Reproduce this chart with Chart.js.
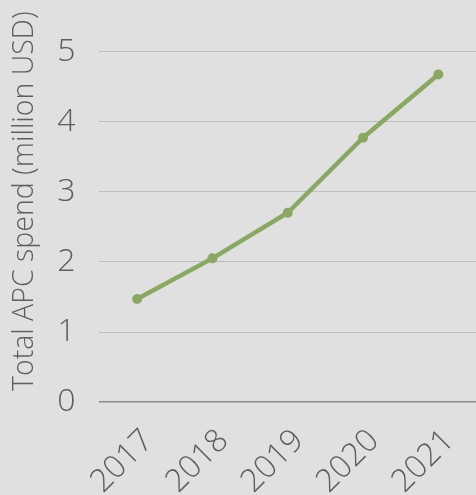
<!DOCTYPE html>
<html>
<head>
<meta charset="utf-8">
<script src="https://cdn.jsdelivr.net/npm/chart.js@4"></script>
<style>
  html, body { margin: 0; padding: 0; background: #e0e0e0; overflow: hidden; }
  #frame { width: 476px; height: 495px; position: relative; overflow: hidden; }
  #wrap { position: absolute; left: -3px; top: -43px; width: 489px; height: 564px; }
</style>
</head>
<body>
<div id="frame"><div id="wrap"><canvas id="apc-chart"></canvas></div></div>
<script>
const years = ['2017', '2018', '2019', '2020', '2021'];
const apcSpend = [1.47, 2.05, 2.70, 3.77, 4.67];
const yTicks = [0, 1, 2, 3, 4, 5];

const ctx = document.getElementById('apc-chart').getContext('2d');
const textGray = '#5e5e5e';

const chart = new Chart(ctx, {
	type: 'line',
	data: {
		labels: years,
		datasets: [
			{
				data: apcSpend,
				borderColor: '#8aa862',
				backgroundColor: '#8aa862',
				borderWidth: 4.5,
				pointRadius: 5,
				pointBorderWidth: 0,
				pointHoverRadius: 5,
				fill: false,
				tension: 0
			}
		]
	},
	options: {
		responsive: true,
		maintainAspectRatio: false,
		animation: false,
		plugins: {
			legend: { display: false },
			tooltip: { enabled: false }
		},
		scales: {
			x: {
				offset: true,
				grid: { display: false, drawTicks: false },
				border: { display: false },
				ticks: {
					color: textGray,
					font: { family: 'Open Sans', size: 32, weight: 300 },
					minRotation: 45,
					maxRotation: 45,
					padding: 20,
					labelOffset: 11
				}
			},
			y: {
				min: 0,
				max: 5.73,
				afterBuildTicks: function (scale) {
					scale.ticks = yTicks.map(v => ({ value: v }));
				},
				afterFit: function (scale) {
					scale.width -= 11;
				},
				grid: {
					drawTicks: false,
					color: function (c) { return c.tick && c.tick.value === 0 ? '#8c8c8c' : '#bdbdbd'; },
					lineWidth: function (c) { return c.tick && c.tick.value === 0 ? 1.5 : 1; }
				},
				border: { display: false },
				ticks: {
					color: textGray,
					font: { family: 'Open Sans', size: 32, weight: 300 },
					padding: 24
				},
				title: {
					display: true,
					text: 'Total APC spend (million USD)',
					color: textGray,
					font: { family: 'Open Sans', size: 28.5, weight: 300 },
					padding: { top: 11, bottom: 2 }
				}
			}
		}
	}
});
</script>
</body>
</html>
